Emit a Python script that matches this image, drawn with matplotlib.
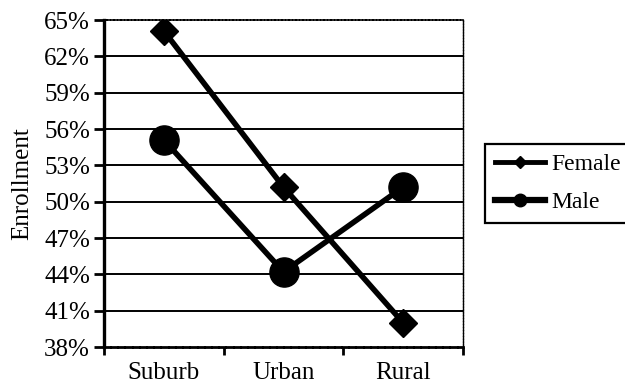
import numpy as np
import matplotlib
matplotlib.use("Agg")
from matplotlib import pyplot as plt
from matplotlib.lines import Line2D

plt.rcParams['font.family'] = ['Liberation Serif', 'DejaVu Serif']

# data
areas = ["Suburb", "Urban", "Rural"]
female = [64.1, 51.2, 40.0]
male = [55.1, 44.2, 51.2]
yticks = list(range(38, 66, 3))

fs = 18

fig = plt.figure(figsize=(6.25, 3.85), dpi=100)
ax = fig.add_axes([104/625, 1-347/385, (463-104)/625, (347-20)/385])

x = np.arange(len(areas)) + 0.5

ax.plot(x, female, color='black', lw=4, marker='D', ms=14.5, zorder=3)
ax.plot(x, male, color='black', lw=4, marker='o', ms=21, zorder=3)

ax.set_xlim(0, 3)
ax.set_ylim(38, 65)
ax.set_yticks(yticks)
ax.set_yticklabels(["%d%%" % v for v in yticks], fontsize=fs)
for v in yticks[1:-1]:
    ax.axhline(v, color='black', lw=1.4, zorder=1)

ax.set_xticks([0, 1, 2, 3])
ax.set_xticklabels([])
ax.set_xticks(x, minor=True)
ax.set_xticklabels(areas, minor=True, fontsize=fs)
ax.tick_params(axis='x', which='minor', length=0, pad=11)
ax.tick_params(axis='x', which='major', direction='out', length=6, width=2)
ax.tick_params(axis='y', direction='out', length=7, width=2, pad=3)

ax.spines['left'].set_linewidth(2.4)
ax.spines['bottom'].set_linewidth(2)
ax.spines['bottom'].set_linestyle((0, (2, 0.6)))
ax.spines['top'].set_linewidth(1.2)
ax.spines['top'].set_linestyle((0, (1.5, 0.6)))
ax.spines['right'].set_linewidth(1.0)
ax.spines['right'].set_linestyle((0, (1.5, 0.6)))

ax.set_ylabel("Enrollment", fontsize=fs, labelpad=8)

handles = [Line2D([], [], color='black', lw=3.5, marker='D', ms=6),
           Line2D([], [], color='black', lw=4.5, marker='o', ms=9)]
leg = fig.legend(handles, ["Female", "Male"], loc='upper left',
                 bbox_to_anchor=(485/625, 1-144/385), fontsize=17,
                 fancybox=False, framealpha=1, edgecolor='black',
                 handlelength=2.1, handletextpad=0.3, borderpad=0.42,
                 labelspacing=0.7, borderaxespad=0)
leg.get_frame().set_linewidth(1.6)

fig.savefig("out.png", dpi=100)
